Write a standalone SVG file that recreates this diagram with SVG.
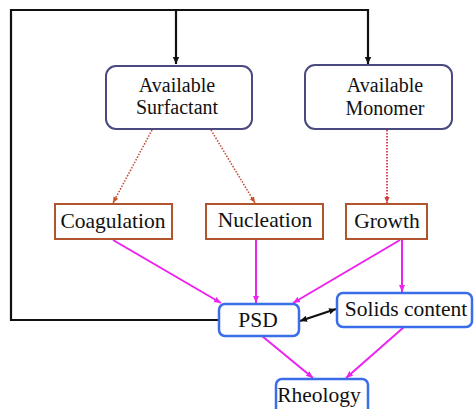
<svg xmlns="http://www.w3.org/2000/svg" width="475" height="409" viewBox="0 0 475 409">
<defs>
<marker id="ab" markerUnits="userSpaceOnUse" markerWidth="8" markerHeight="8" viewBox="0 0 8 8" refX="7" refY="4" orient="auto-start-reverse"><path d="M0,0.8 L7,4 L0,7.2 Z" fill="#111"/></marker>
<marker id="am" markerUnits="userSpaceOnUse" markerWidth="8" markerHeight="8" viewBox="0 0 8 8" refX="7" refY="4" orient="auto"><path d="M0,1 L7,4 L0,7 Z" fill="#ee22ee"/></marker>
<marker id="ar" markerUnits="userSpaceOnUse" markerWidth="7" markerHeight="7" viewBox="0 0 8 8" refX="7" refY="4" orient="auto"><path d="M0,1 L7,4 L0,7 Z" fill="#c8502a"/></marker>
<marker id="ap" markerUnits="userSpaceOnUse" markerWidth="7" markerHeight="7" viewBox="0 0 8 8" refX="7" refY="4" orient="auto"><path d="M0,1 L7,4 L0,7 Z" fill="#d83a3a"/></marker>
</defs>
<style>
text{font-family:"Liberation Serif","Times New Roman",serif;font-size:21.5px;fill:#111;text-anchor:middle}
text.two{font-size:20px}
.top{fill:#fff;stroke:#4a4a80;stroke-width:2}
.mid{fill:#fff;stroke:#b0552d;stroke-width:2}
.bot{fill:#fff;stroke:#3a6ee8;stroke-width:2.5}
.k{fill:none;stroke:#111;stroke-width:2.2}
.m{fill:none;stroke:#ee22ee;stroke-width:2}
.d{fill:none;stroke:#c0503a;stroke-width:1.6;stroke-dasharray:1.5 1.5}
.dp{fill:none;stroke:#e04a5a;stroke-width:2;stroke-dasharray:1.5 1.5}
</style>
<g id="connectors">
<path class="k" d="M219,320 H11 V10 H368 V64" marker-end="url(#ab)"/>
<path class="k" d="M176,10 V64" marker-end="url(#ab)"/>
<path class="k" d="M300,321 L336,309" marker-start="url(#ab)" marker-end="url(#ab)"/>
<path class="d" d="M152,130 L113,203" marker-end="url(#ar)"/>
<path class="d" d="M211,130 L255,203" marker-end="url(#ar)"/>
<path class="dp" d="M387,130 V203" marker-end="url(#ap)"/>
<path class="m" d="M113,240 L221,303" marker-end="url(#am)"/>
<path class="m" d="M256,240 V303" marker-end="url(#am)"/>
<path class="m" d="M400,240 L293,303" marker-end="url(#am)"/>
<path class="m" d="M402,240 V292" marker-end="url(#am)"/>
<path class="m" d="M262,336 L313,378" marker-end="url(#am)"/>
<path class="m" d="M404,327 L346,378" marker-end="url(#am)"/>
</g>
<g id="surfactant"><rect class="top" x="106" y="66" width="146" height="63" rx="10"/><text class="two" x="177" y="91.5">Available</text><text class="two" x="177" y="114">Surfactant</text></g>
<g id="monomer"><rect class="top" x="305" y="65" width="147" height="64" rx="10"/><text class="two" x="385" y="92">Available</text><text class="two" x="385" y="115">Monomer</text></g>
<g id="coagulation"><rect class="mid" x="55" y="204" width="117" height="35"/><text x="113" y="228">Coagulation</text></g>
<g id="nucleation"><rect class="mid" x="206" y="204" width="117" height="35"/><text x="265" y="227">Nucleation</text></g>
<g id="growth"><rect class="mid" x="346" y="204" width="81" height="35"/><text x="387" y="228">Growth</text></g>
<g id="psd"><rect class="bot" x="219" y="304" width="80" height="32" rx="6"/><text x="258" y="327">PSD</text></g>
<g id="solids"><rect class="bot" x="337" y="293" width="135" height="34" rx="6"/><text x="406" y="316">Solids content</text></g>
<g id="rheology"><rect class="bot" x="276" y="379" width="92" height="36" rx="6"/><text x="319" y="402">Rheology</text></g>
</svg>
